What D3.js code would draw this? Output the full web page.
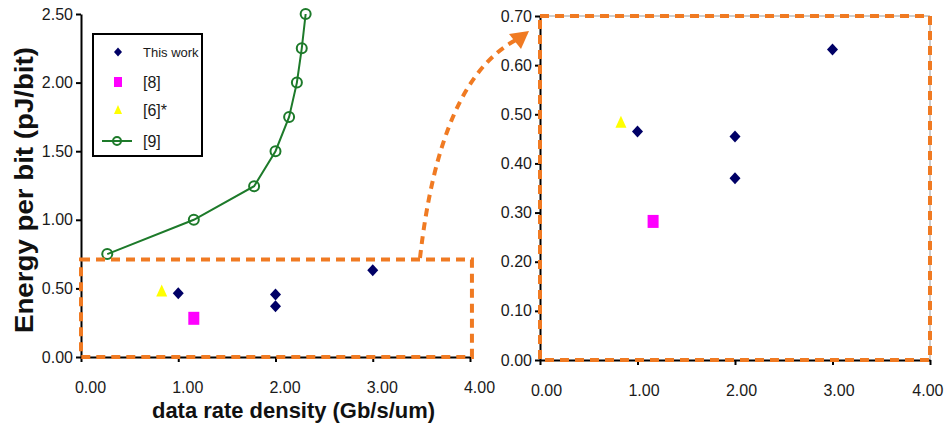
<!DOCTYPE html>
<html><head><meta charset="utf-8">
<script src="https://cdn.jsdelivr.net/npm/d3@7"></script>
<style>
html,body{margin:0;padding:0;background:#fff;}
svg{display:block;font-family:"Liberation Sans",Arial,sans-serif;}
</style></head>
<body>
<svg id="chart" width="944" height="434"></svg>
<script>
// ---- data ----
const xTicks = [0, 1, 2, 3, 4];
const yTicksMain = [0, 0.5, 1.0, 1.5, 2.0, 2.5];
const yTicksZoom = [0, 0.1, 0.2, 0.3, 0.4, 0.5, 0.6, 0.7];
const seriesNames = ["This work", "[8]", "[6]*", "[9]"];
const thisWorkX = [1.0, 2.0, 2.0, 3.0];
const thisWorkY = [0.465, 0.455, 0.370, 0.632];
const ref8X = [1.16];
const ref8Y = [0.282];
const ref6X = [0.83];
const ref6Y = [0.485];
const ref9X = [0.27, 1.16, 1.78, 2.0, 2.14, 2.22, 2.27, 2.31];
const ref9Y = [0.75, 1.0, 1.245, 1.5, 1.75, 2.0, 2.25, 2.5];
const zoomBoxX = [0, 4.02];
const zoomBoxY = [0, 0.71];
const xTitle = "data rate density (Gb/s/um)";
const yTitle = "Energy per bit (pJ/bit)";

// ---- styles ----
const C = {navy:"#000066", magenta:"#ff00ff", yellow:"#ffff00", green:"#1d7a2a", orange:"#f07a22", text:"#1a1a1a"};
const svg = d3.select("#chart");
const fmt = d3.format(".2f");

// scales
const xL = d3.scaleLinear().domain([0,4]).range([81,470]);
const yL = d3.scaleLinear().domain([0,2.5]).range([357,14]);
const xR = d3.scaleLinear().domain([0,4]).range([540,930]);
const yR = d3.scaleLinear().domain([0,0.7]).range([360,16]);

function drawAxes(x, y, yTicks, xdx) {
  const gx = svg.append("g").attr("transform", `translate(0,${y.range()[0]})`)
    .call(d3.axisBottom(x).tickValues(xTicks).tickFormat(fmt).tickSize(5).tickSizeOuter(0).tickPadding(20));
  gx.select(".domain").attr("stroke","#000").attr("stroke-width",2);
  gx.selectAll(".tick line").attr("stroke","#000").attr("stroke-width",2);
  gx.selectAll(".tick text").attr("font-size",16).attr("fill",C.text).attr("dx",xdx)
    .attr("font-family","'Liberation Sans',Arial,sans-serif");
  const gy = svg.append("g").attr("transform", `translate(${x.range()[0]},0)`)
    .call(d3.axisLeft(y).tickValues(yTicks).tickFormat(fmt).tickSize(5).tickSizeOuter(0).tickPadding(3));
  gy.select(".domain").attr("stroke","#000").attr("stroke-width",2);
  gy.selectAll(".tick line").attr("stroke","#000").attr("stroke-width",2);
  gy.selectAll(".tick text").attr("font-size",16).attr("fill",C.text)
    .attr("font-family","'Liberation Sans',Arial,sans-serif");
  return gx;
}

function diamond(g, xs, ys, x, y, w, h) {
  g.selectAll(null).data(xs.map((v,i)=>[v,ys[i]])).enter().append("path")
    .attr("transform", d=>`translate(${x(d[0])},${y(d[1])})`)
    .attr("d", `M0,${-h/2}L${w/2},0L0,${h/2}L${-w/2},0Z`).attr("fill",C.navy);
}
function square(g, xs, ys, x, y, w, h) {
  g.selectAll(null).data(xs.map((v,i)=>[v,ys[i]])).enter().append("rect")
    .attr("x", d=>x(d[0])-w/2).attr("y", d=>y(d[1])-h/2).attr("width",w).attr("height",h).attr("fill",C.magenta);
}
function triangle(g, xs, ys, x, y, w, h) {
  g.selectAll(null).data(xs.map((v,i)=>[v,ys[i]])).enter().append("path")
    .attr("transform", d=>`translate(${x(d[0])},${y(d[1])})`)
    .attr("d", `M0,${-h/2}L${w/2},${h/2}L${-w/2},${h/2}Z`).attr("fill",C.yellow);
}

// ---- left chart ----
drawAxes(xL, yL, yTicksMain, 9);
const gL = svg.append("g");
gL.append("path").datum(ref9X.map((v,i)=>[v,ref9Y[i]]))
  .attr("d", d3.line().x(d=>xL(d[0])).y(d=>yL(d[1])))
  .attr("fill","none").attr("stroke",C.green).attr("stroke-width",2);
gL.selectAll(null).data(ref9X.map((v,i)=>[v,ref9Y[i]])).enter().append("circle")
  .attr("cx",d=>xL(d[0])).attr("cy",d=>yL(d[1])).attr("r",5)
  .attr("fill","none").attr("stroke",C.green).attr("stroke-width",2);
triangle(gL, ref6X, ref6Y, xL, yL, 11, 12);
diamond(gL, thisWorkX, thisWorkY, xL, yL, 11, 12);
square(gL, ref8X, ref8Y, xL, yL, 11, 13);

// zoom box on left
const dash = {"stroke":C.orange,"stroke-width":4,"stroke-dasharray":"9,6","fill":"none"};
const boxL = gL.append("rect")
  .attr("x", xL(zoomBoxX[0])).attr("y", yL(zoomBoxY[1]))
  .attr("width", xL(zoomBoxX[1])-xL(zoomBoxX[0])).attr("height", yL(zoomBoxY[0])-yL(zoomBoxY[1]));
Object.entries(dash).forEach(([k,v])=>boxL.attr(k,v));

// arrow
const arr = svg.append("path").attr("d","M420,258 Q440,80 516,40");
Object.entries(dash).forEach(([k,v])=>arr.attr(k,v));
arr.attr("stroke-dasharray","8,6");
svg.append("path").attr("d","M529,31 L509,34 L521,49 Z").attr("fill",C.orange);

// legend
const lg = svg.append("g");
lg.append("clipPath").attr("id","lgclip").append("rect").attr("x",93).attr("y",34).attr("width",109).attr("height",122);
lg.append("rect").attr("x",93).attr("y",34).attr("width",109).attr("height",122)
  .attr("fill","#fff").attr("stroke","#000").attr("stroke-width",2);
const lgy = [52, 82, 110, 141];
lg.append("path").attr("transform",`translate(118,${lgy[0]})`).attr("d","M0,-4.5L4,0L0,4.5L-4,0Z").attr("fill",C.navy);
lg.append("rect").attr("x",114).attr("y",lgy[1]-5).attr("width",8).attr("height",10).attr("fill",C.magenta);
lg.append("path").attr("transform",`translate(118,${lgy[2]})`).attr("d","M0,-5L4,4L-4,4Z").attr("fill",C.yellow);
lg.append("line").attr("x1",102).attr("x2",132).attr("y1",lgy[3]).attr("y2",lgy[3]).attr("stroke",C.green).attr("stroke-width",2);
lg.append("circle").attr("cx",117).attr("cy",lgy[3]).attr("r",4).attr("fill","none").attr("stroke",C.green).attr("stroke-width",2);
lg.selectAll(null).data(seriesNames).enter().append("text")
  .attr("clip-path","url(#lgclip)")
  .attr("x",143).attr("y",(d,i)=>lgy[i]+(i===0?5:6))
  .attr("font-size",(d,i)=>i===0?13:16).attr("fill",C.text).text(d=>d);

// titles
svg.append("text").attr("x",152).attr("y",418).attr("font-size",22).attr("font-weight","bold")
  .attr("textLength",283).attr("lengthAdjust","spacingAndGlyphs").attr("fill","#111").text(xTitle);
svg.append("text").attr("transform","translate(33,333) rotate(-90)").attr("font-size",25).attr("font-weight","bold")
  .attr("textLength",286).attr("lengthAdjust","spacingAndGlyphs").attr("fill","#111").text(yTitle);

// ---- right chart ----
svg.append("path").attr("d",`M${xR(0)},${yR(0.7)}H${xR(4)}V${yR(0)}`).attr("fill","none").attr("stroke","#999").attr("stroke-width",1);
const gxR = drawAxes(xR, yR, yTicksZoom, 6);
// keep the last label inside the picture
gxR.selectAll(".tick text").filter(d=>d===4).attr("text-anchor","end").attr("dx",13);
const gR = svg.append("g");
triangle(gR, ref6X, ref6Y, xR, yR, 11, 12);
diamond(gR, thisWorkX, thisWorkY, xR, yR, 11, 12);
square(gR, ref8X, ref8Y, xR, yR, 11, 13);
const boxR = gR.append("rect").attr("x",xR(0)).attr("y",yR(0.7)).attr("width",xR(4)-xR(0)).attr("height",yR(0)-yR(0.7));
Object.entries(dash).forEach(([k,v])=>boxR.attr(k,v));
</script>
</body></html>
